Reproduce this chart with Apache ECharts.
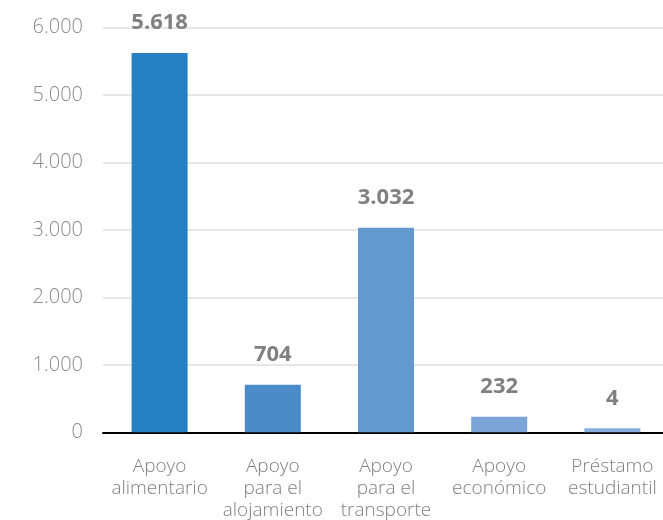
<!DOCTYPE html>
<html><head><meta charset="utf-8">
<script src="https://cdn.jsdelivr.net/npm/echarts@6/dist/echarts.min.js"></script>
<style>html,body{margin:0;padding:0;background:#fff}#c{width:663px;height:520px}</style>
</head><body><div id="c"></div>
<script>
const categories = ['Apoyo\nalimentario', 'Apoyo\npara el\nalojamiento', 'Apoyo\npara el\ntransporte', 'Apoyo\neconómico', 'Préstamo\nestudiantil'];
const values = [5618, 704, 3032, 232, 4];
const barColors = ['#2580c3', '#4a8bca', '#6399cf', '#7aa5d6', '#86aeda'];
const yTicks = [0, 1000, 2000, 3000, 4000, 5000, 6000];

function fmt(v) { return String(v).replace(/\B(?=(\d{3})+(?!\d))/g, '.'); }

const chart = echarts.init(document.getElementById('c'), null, {renderer: 'canvas'});
chart.setOption({
  animation: false,
  grid: {left: 103, width: 566, top: 27.3, bottom: 87.7, containLabel: false, outerBoundsMode: 'none'},
  xAxis: {
    type: 'category', data: categories,
    axisLine: {lineStyle: {color: '#000', width: 2}},
    axisTick: {show: false},
    axisLabel: {color: '#7f7f7f', fontFamily: 'Open Sans', fontSize: 19, fontWeight: 300, lineHeight: 22, margin: 23, interval: 0}
  },
  yAxis: {
    type: 'value', min: yTicks[0], max: yTicks[yTicks.length - 1], interval: 1000,
    axisLine: {show: false}, axisTick: {show: false},
    splitLine: {lineStyle: {color: '#e6e6e6', width: 2}},
    axisLabel: {color: '#8a8a8a', fontFamily: 'Open Sans', fontSize: 20, fontWeight: 300, margin: 20, formatter: fmt}
  },
  series: [{
    type: 'bar', barWidth: 56, barMinHeight: 4,
    data: values.map((v, i) => ({value: v, itemStyle: {color: barColors[i]}})),
    label: {show: true, position: 'top', distance: 19, color: '#808080', fontFamily: 'Open Sans', fontSize: 22, fontWeight: 'bold', formatter: p => fmt(p.value)}
  }]
});
</script></body></html>
